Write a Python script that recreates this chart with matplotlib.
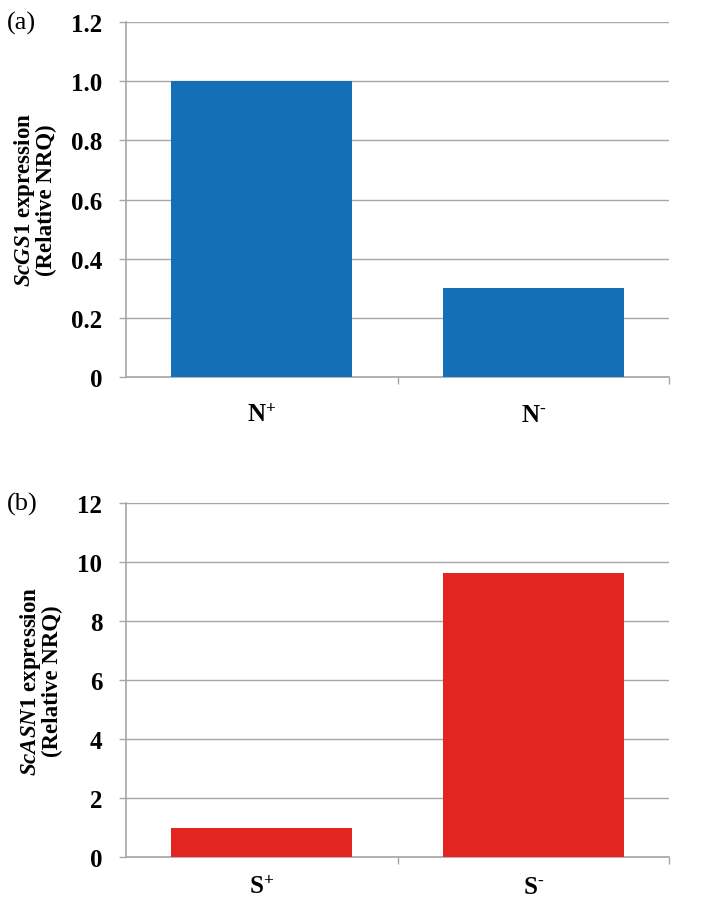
import matplotlib
matplotlib.use("Agg")
import matplotlib.pyplot as plt

plt.rcParams['font.family'] = ['Liberation Serif', 'DejaVu Serif']
plt.rcParams['mathtext.fontset'] = 'custom'
plt.rcParams['mathtext.rm'] = 'Liberation Serif:bold'
plt.rcParams['mathtext.it'] = 'Liberation Serif:italic:bold'
plt.rcParams['mathtext.bf'] = 'Liberation Serif:bold'

cats_a = [r'N$^{+}$', r'N$^{\text{-}}$']
vals_a = [1.0, 0.30]
cats_b = [r'S$^{+}$', r'S$^{\text{-}}$']
vals_b = [0.98, 9.63]
yticks_a = [0, 0.2, 0.4, 0.6, 0.8, 1.0, 1.2]
yticklabels_a = ['0', '0.2', '0.4', '0.6', '0.8', '1.0', '1.2']
yticks_b = [0, 2, 4, 6, 8, 10, 12]

fig = plt.figure(figsize=(7.09, 9.03), dpi=100)
ax1 = fig.add_axes([0.1777, 0.5814, 0.7659, 0.3931])
ax2 = fig.add_axes([0.1777, 0.0498, 0.7659, 0.3921])

grid_c = '#a6a6a6'

def style(ax, cats, vals, color, yticks, ylabels, ymax, ylabel, panel, xpad):
    x = list(range(len(cats)))
    ax.bar(x, vals, width=0.667, color=color, zorder=3)
    ax.set_xlim(-0.5, len(cats) - 0.5)
    ax.set_ylim(0, ymax)
    ax.set_yticks(yticks)
    ax.set_yticklabels(ylabels, fontsize=18, fontweight='bold')
    ax.yaxis.grid(True, color=grid_c, linewidth=1, zorder=0)
    ax.set_axisbelow(True)
    for s in ['top', 'right']:
        ax.spines[s].set_visible(False)
    for s in ['left', 'bottom']:
        ax.spines[s].set_color(grid_c)
        ax.spines[s].set_linewidth(1.2)
    ax.tick_params(axis='y', direction='out', length=5, color=grid_c, width=1, pad=12)
    ax.set_xticks([i + 0.5 for i in x], minor=False)
    ax.set_xticklabels([''] * len(x))
    ax.tick_params(axis='x', direction='out', length=5, color=grid_c, width=1)
    ax.set_xticks(x, minor=True)
    ax.set_xticklabels(cats, minor=True, fontsize=18, fontweight='bold')
    ax.tick_params(axis='x', which='minor', length=0, pad=xpad)
    ax.set_ylabel(ylabel, fontsize=16.5, fontweight='bold', linespacing=0.95, labelpad=10)
    ax.text(-0.22, 1.0, panel, transform=ax.transAxes, fontsize=19, ha='left', va='center')

style(ax1, cats_a, vals_a, '#156fb7', yticks_a, yticklabels_a, 1.2,
      r'$\mathit{ScGS1}$ expression' + '\n(Relative NRQ)', '(a)', 19)
style(ax2, cats_b, vals_b, '#e32522', yticks_b, [str(v) for v in yticks_b], 12,
      r'$\mathit{ScASN1}$ expression' + '\n(Relative NRQ)', '(b)', 13)

fig.savefig('out.png', dpi=100)
